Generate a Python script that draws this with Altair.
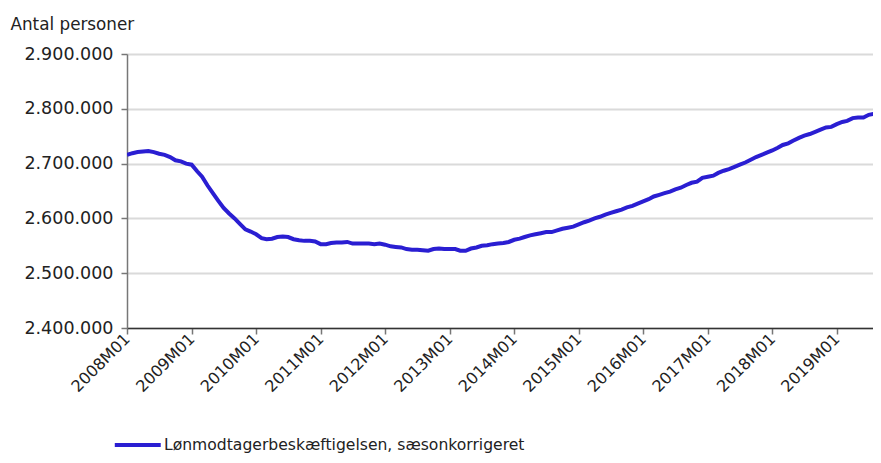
import altair as alt
import pandas as pd

# Monthly, seasonally adjusted wage earners (persons), 2008M01 .. 2019M09
start_month = "2008-01-01"
values = [
    2716000, 2719000, 2721000, 2722000, 2723000, 2721000, 2718000, 2716000, 2712000, 2706000, 2704000, 2700000,
    2698000, 2686000, 2676000, 2660000, 2646000, 2632000, 2619000, 2609000, 2600000, 2590000, 2580000, 2576000,
    2571000, 2564000, 2562000, 2563000, 2566000, 2567000, 2566000, 2562000, 2560000, 2559000, 2559000, 2558000,
    2553000, 2553000, 2555000, 2556000, 2556000, 2557000, 2554000, 2554000, 2554000, 2554000, 2553000, 2554000,
    2552000, 2549000, 2548000, 2547000, 2544000, 2543000, 2543000, 2542000, 2541000, 2544000, 2545000, 2544000,
    2544000, 2544000, 2541000, 2541000, 2545000, 2547000, 2550000, 2551000, 2553000, 2554000, 2555000, 2557000,
    2561000, 2563000, 2566000, 2569000, 2571000, 2573000, 2575000, 2575000, 2578000, 2581000, 2583000, 2585000,
    2589000, 2593000, 2596000, 2600000, 2603000, 2607000, 2610000, 2613000, 2616000, 2620000, 2623000, 2627000,
    2631000, 2635000, 2640000, 2643000, 2646000, 2649000, 2653000, 2656000, 2661000, 2665000, 2667000, 2674000,
    2676000, 2678000, 2683000, 2687000, 2690000, 2694000, 2698000, 2702000, 2707000, 2712000, 2716000, 2720000,
    2724000, 2729000, 2734000, 2737000, 2742000, 2747000, 2751000, 2754000, 2758000, 2762000, 2766000, 2767000,
    2772000, 2776000, 2778000, 2783000, 2784000, 2784000, 2789000, 2791000, 2793000,
]
series_name = "Lønmodtagerbeskæftigelsen, sæsonkorrigeret"
tick_years = list(range(2008, 2020))
y_ticks = [2400000, 2500000, 2600000, 2700000, 2800000, 2900000]
y_title = "Antal personer"
line_color = "#2a1ed2"
font = "DejaVu Sans"

months = pd.date_range(start_month, periods=len(values), freq="MS")
df = pd.DataFrame({
    "date": [d.strftime("%Y-%m-%dT00:00:00") for d in months],
    "value": values,
    "series": series_name,
})

chart = alt.Chart(df).mark_line(strokeWidth=4, interpolate="linear", clip=True).encode(
    x=alt.X(
        "date:T",
        scale=alt.Scale(domain=[alt.DateTime(year=2008, month=1, date=1),
                                alt.DateTime(year=2019, month=7, date=25)]),
        axis=alt.Axis(
            title=None,
            values=[alt.DateTime(year=y, month=1, date=1) for y in tick_years],
            labelExpr="timeFormat(datum.value, '%Y') + 'M01'",
            labelAngle=-45,
            labelAlign="right",
            labelBaseline="middle",
            labelFont=font,
            labelFontSize=16,
            labelColor="#222222",
            labelPadding=2,
            grid=False,
            domainColor="#333333",
            domainWidth=1.6,
            tickColor="#777777",
            tickWidth=1.5,
            tickSize=6,
        ),
    ),
    y=alt.Y(
        "value:Q",
        scale=alt.Scale(domain=[2400000, 2900000], zero=False, nice=False),
        axis=alt.Axis(
            title=y_title,
            titleAngle=0,
            titleAlign="left",
            titleBaseline="alphabetic",
            titleX=-117,
            titleY=-25,
            titleFont=font,
            titleFontSize=16.8,
            titleFontWeight="normal",
            titleColor="#222222",
            values=y_ticks,
            format=",d",
            labelFont=font,
            labelFontSize=17.5,
            labelColor="#222222",
            labelPadding=8,
            grid=True,
            gridColor="#dadada",
            gridWidth=2,
            domainColor="#777777",
            domainWidth=1.5,
            tickColor="#777777",
            tickWidth=1.5,
            tickSize=6,
        ),
    ),
    color=alt.Color(
        "series:N",
        scale=alt.Scale(range=[line_color]),
        legend=alt.Legend(
            title=None,
            orient="none",
            legendX=20,
            legendY=383,
            symbolType="M-7,0H1",
            symbolSize=132,
            symbolStrokeWidth=4,
            labelFont=font,
            labelFontSize=15.6,
            labelLimit=600,
            labelColor="#222222",
            labelOffset=1,
        ),
    ),
).properties(
    width=746,
    height=274,
    autosize="none",
    padding={"left": 119, "top": 46, "right": 0, "bottom": 127},
).configure(
    locale={"number": {"decimal": ",", "thousands": ".", "grouping": [3], "currency": ["", " kr."]}},
).configure_view(stroke=None)

chart.save("out.html", embed_options={"renderer": "svg", "actions": False})
